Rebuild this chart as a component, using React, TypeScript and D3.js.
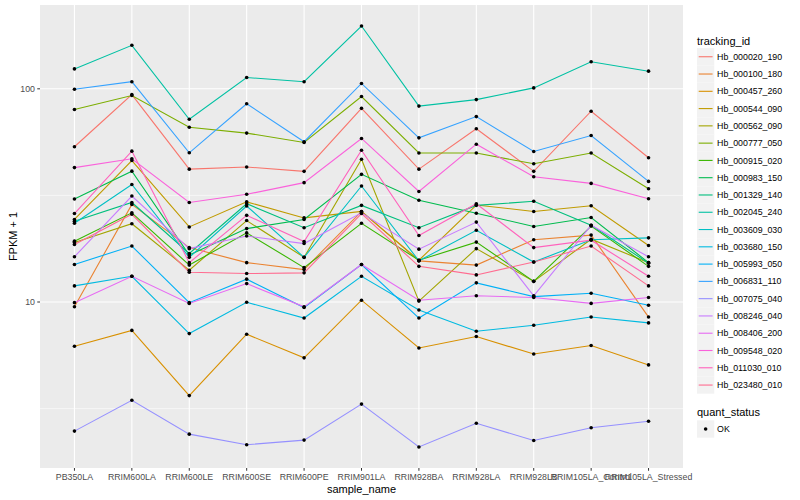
import * as d3 from "d3";

// sample order on the x axis
const samples = [
  "PB350LA", "RRIM600LA", "RRIM600LE", "RRIM600SE", "RRIM600PE", "RRIM901LA",
  "RRIM928BA", "RRIM928LA", "RRIM928LB", "RRIM105LA_Control", "RRIM105LA_Stressed",
];

const trackingIds = [
  "Hb_000020_190", "Hb_000100_180", "Hb_000457_260", "Hb_000544_090", "Hb_000562_090",
  "Hb_000777_050", "Hb_000915_020", "Hb_000983_150", "Hb_001329_140", "Hb_002045_240",
  "Hb_003609_030", "Hb_003680_150", "Hb_005993_050", "Hb_006831_110", "Hb_007075_040",
  "Hb_008246_040", "Hb_008406_200", "Hb_009548_020", "Hb_011030_010", "Hb_023480_010",
];

// FPKM + 1, one array per gene, same order as samples
const hb000020_190 = [53.5, 94, 42, 43, 41, 81, 42, 65, 41, 78.5, 47.5];
const hb000100_180 = [9.5, 28.7, 18.0, 15.3, 14.2, 26.6, 15.6, 14.9, 19.6, 20.6, 8.5];
const hb000457_260 = [6.2, 7.36, 3.64, 7.06, 5.47, 10.2, 6.09, 6.89, 5.7, 6.25, 5.07];
const hb000544_090 = [24.4, 46.1, 22.5, 29.5, 24.8, 26.6, 15.7, 28.5, 26.6, 28.3, 18.4];
const hb000562_090 = [19.0, 23.3, 14.1, 24.1, 16.2, 46.7, 10.1, 17.8, 12.5, 19.7, 15.3];
const hb000777_050 = [80, 93, 66, 62, 56, 92, 50, 50, 44.5, 50, 34];
const hb000915_020 = [19.3, 26.2, 14.9, 21.1, 14.5, 23.4, 15.7, 19.1, 12.5, 22.7, 14.7];
const hb000983_150 = [30.4, 41.1, 16.6, 22.1, 24.4, 39.7, 30.0, 26.1, 22.6, 24.9, 15.3];
const hb001329_140 = [23.9, 29.3, 16.9, 28.9, 22.3, 28.4, 22.3, 28.4, 29.7, 22.9, 15.2];
const hb002045_240 = [124, 160, 72, 113, 108, 197, 83, 89, 101, 134, 121];
const hb003609_030 = [23.4, 35.6, 16.2, 28.2, 16.2, 35.0, 15.6, 21.7, 15.4, 19.6, 20.0];
const hb003680_150 = [11.9, 13.2, 7.11, 9.97, 8.41, 13.2, 9.17, 7.29, 7.78, 8.51, 7.98];
const hb005993_050 = [15.0, 18.3, 9.93, 12.8, 9.42, 15.0, 8.41, 12.3, 10.6, 11.0, 9.66];
const hb006831_110 = [99.6, 108, 50.1, 85.1, 56.5, 106, 58.9, 74.1, 50.8, 60.4, 36.8];
const hb007075_040 = [2.48, 3.46, 2.4, 2.14, 2.25, 3.32, 2.09, 2.7, 2.24, 2.57, 2.76];
const hb008246_040 = [16.3, 31.4, 17.8, 20.4, 18.8, 26.2, 17.7, 23.7, 10.7, 22.9, 16.3];
const hb008406_200 = [9.93, 13.2, 9.85, 12.2, 9.49, 15.0, 10.2, 10.7, 10.5, 9.85, 10.5];
const hb009548_020 = [42.7, 47, 29.3, 32, 36.3, 58.5, 33, 55, 38.7, 36, 30.5];
const hb011030_010 = [26.0, 51.0, 15.3, 25.5, 19.2, 51.5, 20.5, 28.9, 18.0, 19.5, 13.2];
const hb023480_010 = [18.6, 25.8, 13.8, 13.6, 13.7, 26.0, 14.7, 13.4, 15.4, 18.3, 11.9];

const seriesValues = [
  hb000020_190, hb000100_180, hb000457_260, hb000544_090, hb000562_090,
  hb000777_050, hb000915_020, hb000983_150, hb001329_140, hb002045_240,
  hb003609_030, hb003680_150, hb005993_050, hb006831_110, hb007075_040,
  hb008246_040, hb008406_200, hb009548_020, hb011030_010, hb023480_010,
];

const yTicks = [10, 100];
const yMinor = [Math.sqrt(10), Math.sqrt(1000), Math.sqrt(100000)];

// ggplot hue palette, 20 levels
const palette = [
  "#F8766D", "#EA8331", "#D89000", "#C09B00", "#A3A500", "#7CAE00", "#39B600",
  "#00BB4E", "#00BF7D", "#00C1A3", "#00BFC4", "#00BAE0", "#00B0F6", "#35A2FF",
  "#9590FF", "#C77CFF", "#E76BF3", "#FA62DB", "#FF62BC", "#FF6C90",
];

const W = 800, H = 500;
const panel = { left: 40, right: 683, top: 5, bottom: 468 };
const font = "Liberation Sans, Arial, Helvetica, sans-serif";

export default function App() {
  const x = d3.scalePoint<string>().domain(samples).range([panel.left, panel.right]).padding(0.6);

  // log scale with ggplot's 5% expansion in log space
  const all = seriesValues.flat();
  const lo = Math.log10(d3.min(all)!), hi = Math.log10(d3.max(all)!);
  const ex = (hi - lo) * 0.05;
  const y = d3.scaleLog().domain([10 ** (lo - ex), 10 ** (hi + ex)]).range([panel.bottom, panel.top]);

  const line = d3.line<number>()
    .x((_, i) => x(samples[i])!)
    .y((d) => y(d));

  const pw = panel.right - panel.left;
  const ph = panel.bottom - panel.top;
  const inPanel = (v: number) => y(v) >= panel.top && y(v) <= panel.bottom;

  const legX = 697, key = 17.28, legTop = 48.1;

  return (
    <svg width={W} height={H} style={{ position: "absolute", left: 0, top: 0, background: "white" }} fontFamily={font}>
      <rect x={panel.left} y={panel.top} width={pw} height={ph} fill="#EBEBEB" />
      {yMinor.filter(inPanel).map((v) => (
        <line key={"m" + v} x1={panel.left} x2={panel.right} y1={y(v)} y2={y(v)} stroke="#fff" strokeWidth={0.55} />
      ))}
      {yTicks.map((v) => (
        <line key={"g" + v} x1={panel.left} x2={panel.right} y1={y(v)} y2={y(v)} stroke="#fff" strokeWidth={1.1} />
      ))}
      {samples.map((s) => (
        <line key={"v" + s} x1={x(s)} x2={x(s)} y1={panel.top} y2={panel.bottom} stroke="#fff" strokeWidth={1.1} />
      ))}

      {seriesValues.map((vals, i) => (
        <path key={"l" + i} d={line(vals)!} fill="none" stroke={palette[i]} strokeWidth={1.1} />
      ))}
      {seriesValues.map((vals, i) =>
        vals.map((v, j) => (
          <circle key={"p" + i + "-" + j} cx={x(samples[j])} cy={y(v)} r={1.8} fill="#000" />
        ))
      )}

      {/* y axis */}
      {yTicks.map((v) => (
        <g key={"yt" + v}>
          <line x1={panel.left - 2.75} x2={panel.left} y1={y(v)} y2={y(v)} stroke="#333" strokeWidth={1} />
          <text x={panel.left - 5} y={y(v)} dy="0.35em" textAnchor="end" fontSize={8.8} fill="#4D4D4D">{v}</text>
        </g>
      ))}
      <text transform={`translate(17,${(panel.top + panel.bottom) / 2}) rotate(-90)`} textAnchor="middle" fontSize={11} fill="#000">
        FPKM + 1
      </text>

      {/* x axis */}
      {samples.map((s) => (
        <g key={"xt" + s}>
          <line x1={x(s)} x2={x(s)} y1={panel.bottom} y2={panel.bottom + 2.75} stroke="#333" strokeWidth={1} />
          <text x={x(s)} y={panel.bottom + 12} textAnchor="middle" fontSize={8.8} fill="#4D4D4D">{s}</text>
        </g>
      ))}
      <text x={(panel.left + panel.right) / 2} y={493} textAnchor="middle" fontSize={11} fill="#000">sample_name</text>

      {/* legend: tracking_id */}
      <text x={legX} y={44.5} fontSize={11} fill="#000">tracking_id</text>
      {trackingIds.map((id, i) => {
        const ty = legTop + i * key;
        return (
          <g key={"k" + id}>
            <rect x={legX} y={ty} width={key} height={key} fill="#F2F2F2" />
            <line x1={legX + 1.7} x2={legX + key - 1.7} y1={ty + key / 2} y2={ty + key / 2} stroke={palette[i]} strokeWidth={1.1} />
            <text x={legX + key + 2.8} y={ty + key / 2} dy="0.35em" fontSize={8.8} fill="#000">{id}</text>
          </g>
        );
      })}

      {/* legend: quant_status */}
      <text x={legX} y={416} fontSize={11} fill="#000">quant_status</text>
      <rect x={legX} y={429 - key / 2} width={key} height={key} fill="#F2F2F2" />
      <circle cx={legX + key / 2} cy={429} r={1.8} fill="#000" />
      <text x={legX + key + 2.8} y={429} dy="0.35em" fontSize={8.8} fill="#000">OK</text>
    </svg>
  );
}
